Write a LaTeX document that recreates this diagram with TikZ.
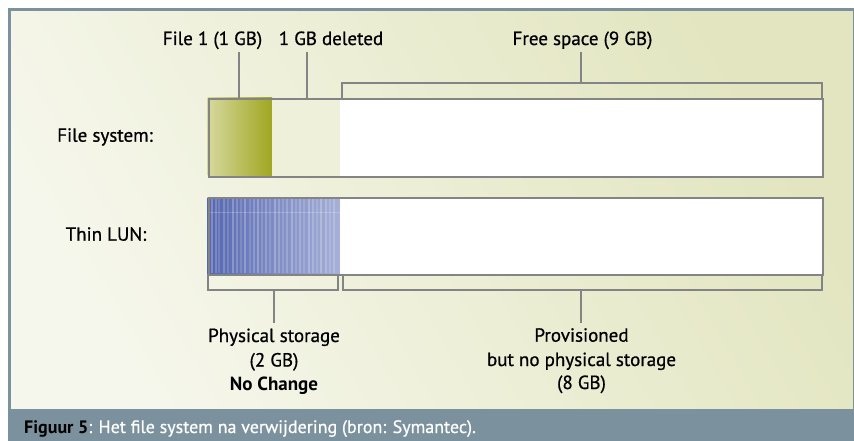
\documentclass[tikz,border=0pt]{standalone}
\usepackage{fontspec}
\setmainfont{PT Sans}[FakeBold=0.7]
\newfontfamily\boldfont{PT Sans Bold}
\begin{document}
\begin{tikzpicture}[x=1pt,y=-1pt,
  lbl/.style={font=\fontsize{19}{22}\selectfont, text=black, inner sep=0pt, anchor=base},
  frame/.style={draw=boxgray, line width=2pt},
  brk/.style={draw=boxgray, line width=2pt},
  tick/.style={draw=boxgray, line width=2pt}]
\definecolor{boxgray}{HTML}{848484}
\definecolor{barblue}{HTML}{7B919D}
\definecolor{panelL}{HTML}{F6F7EC}
\definecolor{panelR}{HTML}{E2E5BF}
\definecolor{greenL}{HTML}{D6D99E}
\definecolor{greenR}{HTML}{A0A620}
\definecolor{blueL}{HTML}{5566B0}
\definecolor{blueR}{HTML}{A6B0D8}
\definecolor{delcream}{HTML}{EEF0DA}
\useasboundingbox (0,0) rectangle (854,441);
\fill[white] (0,0) rectangle (854,441);
% panel
\shade[shading=axis, left color=panelL, right color=panelR, shading angle=120] (9.5,9.5) rectangle (853,409);
\draw[barblue, line width=3pt] (9.5,441) -- (9.5,9.5) -- (854,9.5);
\draw[barblue, line width=1pt] (853.5,9.5) -- (853.5,409);
% caption bar
\fill[barblue] (9,409) rectangle (854,441);
\node[text=black, inner sep=0pt, anchor=base west, font=\fontsize{18}{20}\selectfont] (cap) at (24,433)
  {{\boldfont Figuur 5}\textcolor{white}{: Het file system na verwijdering (bron: Symantec).}};

% File system bar
\coordinate (fsA) at (207.5,98);
\shade[left color=greenL, right color=greenR] (207.5,98) rectangle (272,175.7);
\fill[delcream] (272,98) rectangle (340,175.7);
\fill[white] (340,98) rectangle (822,175.7);
\node[frame, minimum width=614.5pt, minimum height=77.7pt, inner sep=0pt, anchor=north west] (fs) at (fsA) {};

% Thin LUN bar
\coordinate (lunA) at (207.5,197);
\shade[left color=blueL, right color=blueR] (207.5,197) rectangle (340,274.3);
\foreach \x/\o in {212/0.25,216/0.2,219/0.15,224/0.2,228/0.15,233/0.25,237/0.2,241/0.15,245/0.25,250/0.15,254/0.2,258/0.25,262/0.15,266/0.2,270/0.15,275/0.25,279/0.2,283/0.15,287/0.2,292/0.25,296/0.15,300/0.2,304/0.15,309/0.25,313/0.2,317/0.15,321/0.25,326/0.2,330/0.15,334/0.2}
  \draw[white, opacity=\o, line width=1.2pt] (\x,199) -- (\x,273);
\draw[white, opacity=0.2, line width=1.5pt] (208,212.5) -- (340,212.5);
\fill[white] (340,197) rectangle (822,274.3);
\node[frame, minimum width=614.5pt, minimum height=77.3pt, inner sep=0pt, anchor=north west] (lun) at (lunA) {};

% left labels
\node[lbl] (lfs) at (105,141.7) {File system:};
\node[lbl] (llun) at (106,240.7) {Thin LUN:};

% top labels
\node[lbl] (tfile) at (212.5,45) {File 1 (1 GB)};
\node[lbl] (tdel) at (331,45) {1 GB deleted};
\node[lbl] (tfree) at (582.5,45) {Free space (9 GB)};

% top ticks
\coordinate (t1a) at (239.3,52); \coordinate (t1b) at (239.3,98);
\coordinate (t2a) at (307.3,52); \coordinate (t2b) at (307.3,98);
\draw[tick] (t1a) -- (t1b);
\draw[tick] (t2a) -- (t2b);
\coordinate (fb1) at (342.3,98); \coordinate (fb2) at (822,98);
\draw[brk] (fb1) -- (342.3,83.3) -- (822,83.3) -- (fb2);
\coordinate (t3a) at (581,52); \coordinate (t3b) at (581,83.3);
\draw[tick] (t3a) -- (t3b);

% bottom brackets
\coordinate (pb1) at (207.5,274.3); \coordinate (pb2) at (338.3,274.3);
\draw[brk] (pb1) -- (207.5,290) -- (338.3,290) -- (pb2);
\coordinate (vb1) at (342.7,274.3); \coordinate (vb2) at (822,274.3);
\draw[brk] (vb1) -- (342.7,290) -- (822,290) -- (vb2);
\coordinate (b1a) at (274,290); \coordinate (b1b) at (274,322.7);
\coordinate (b2a) at (581,290); \coordinate (b2b) at (581,322.7);
\draw[tick] (b1a) -- (b1b);
\draw[tick] (b2a) -- (b2b);

% bottom labels
\node[lbl] (ps1) at (274,342) {Physical storage};
\node[lbl] (ps2) at (274,366.5) {(2 GB)};
\node[lbl] (ps3) at (274,390) {{\boldfont No Change}};
\node[lbl] (pv1) at (581.5,341.7) {Provisioned};
\node[lbl] (pv2) at (581.5,366) {but no physical storage};
\node[lbl] (pv3) at (581.5,389) {(8 GB)};
\end{tikzpicture}
\end{document}
